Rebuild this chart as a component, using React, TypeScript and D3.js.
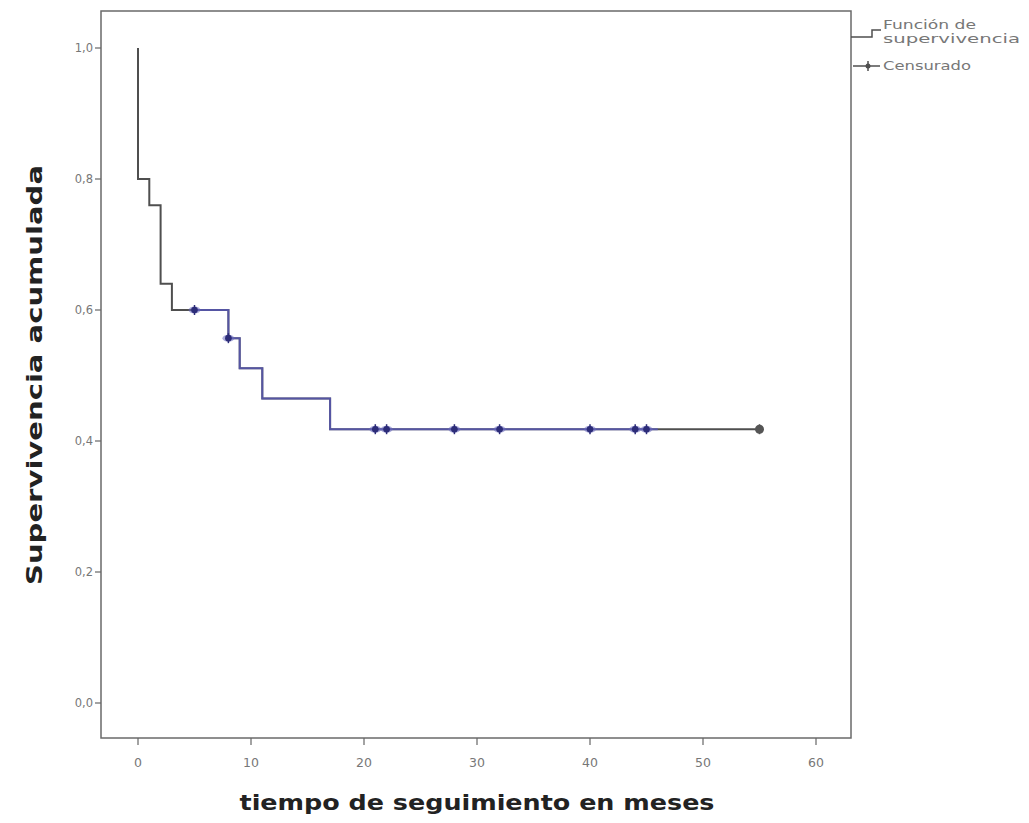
import React from "react";
import * as d3 from "d3";

const stepTimes = [0, 0, 1, 2, 3, 8, 9, 11, 17];
const stepSurvival = [1.0, 0.8, 0.76, 0.64, 0.6, 0.557, 0.511, 0.465, 0.418];
const lastTime = 55;
const censorTimes = [5, 8, 21, 22, 28, 32, 40, 44, 45, 55];
const blueStart = 5;
const blueEnd = 46;
const xTicks = [0, 10, 20, 30, 40, 50, 60];
const yTicks = [0, 0.2, 0.4, 0.6, 0.8, 1.0];

const W = 1029;
const H = 823;
const frame = { left: 101, right: 851, top: 11, bottom: 738 };

const x = d3.scaleLinear().domain([0, 60]).range([138, 816]);
const y = d3.scaleLinear().domain([0, 1]).range([703, 48]);

function survAt(t: number): number {
  let s = 1;
  for (let i = 0; i < stepTimes.length; i++) {
    if (stepTimes[i] <= t) s = stepSurvival[i];
  }
  return s;
}

export default function App() {
  const pts: [number, number][] = stepTimes.map((t, i) => [t, stepSurvival[i]]);
  pts.push([lastTime, stepSurvival[stepSurvival.length - 1]]);
  const line = d3
    .line<[number, number]>()
    .x((d) => x(d[0]))
    .y((d) => y(d[1]))
    .curve(d3.curveStepAfter);

  const bluePts: [number, number][] = [[blueStart, survAt(blueStart)]];
  stepTimes.forEach((t, i) => {
    if (t > blueStart && t < blueEnd) bluePts.push([t, stepSurvival[i]]);
  });
  bluePts.push([blueEnd, survAt(blueEnd)]);

  const fmt = (v: number) => v.toFixed(1).replace(".", ",");
  const grey = "#4f4f4f";
  const tickCol = "#666";
  const font = "DejaVu Sans, sans-serif";

  return (
    <svg
      width={W}
      height={H}
      style={{ position: "absolute", left: 0, top: 0, background: "#fff" }}
    >
      <rect x={0} y={0} width={W} height={H} fill="#fff" />
      {/* frame */}
      <rect
        x={frame.left}
        y={frame.top}
        width={frame.right - frame.left}
        height={frame.bottom - frame.top}
        fill="none"
        stroke="#6a6a6a"
        strokeWidth={1.5}
      />
      {/* y ticks */}
      {yTicks.map((v) => (
        <g key={"y" + v}>
          <line x1={frame.left - 6} x2={frame.left} y1={y(v)} y2={y(v)} stroke={tickCol} strokeWidth={1.2} />
          <text
            x={frame.left - 8}
            y={y(v)}
            dy="0.35em"
            textAnchor="end"
            fontFamily={font}
            fontSize={11.5}
            fill="#777"
          >
            {fmt(v)}
          </text>
        </g>
      ))}
      {/* x ticks */}
      {xTicks.map((v) => (
        <g key={"x" + v}>
          <line x1={x(v)} x2={x(v)} y1={frame.bottom} y2={frame.bottom + 7} stroke={tickCol} strokeWidth={1.2} />
          <text
            x={x(v)}
            y={frame.bottom + 29}
            textAnchor="middle"
            fontFamily={font}
            fontSize={12.5}
            fill="#777"
          >
            {v}
          </text>
        </g>
      ))}
      {/* axis titles */}
      <text
        x={477}
        y={810}
        textAnchor="middle"
        fontFamily={font}
        fontWeight="bold"
        fontSize={21}
        fill="#222"
        textLength={475}
        lengthAdjust="spacingAndGlyphs"
      >
        tiempo de seguimiento en meses
      </text>
      <text
        transform={`translate(42,375) rotate(-90)`}
        textAnchor="middle"
        fontFamily={font}
        fontWeight="bold"
        fontSize={21}
        fill="#222"
        textLength={420}
        lengthAdjust="spacingAndGlyphs"
      >
        Supervivencia acumulada
      </text>
      {/* survival curve */}
      <path d={line(pts) || ""} fill="none" stroke={grey} strokeWidth={2} />
      <path d={line(bluePts) || ""} fill="none" stroke="#5656b8" strokeWidth={2} opacity={0.8} />
      {/* censor markers */}
      {censorTimes.map((t, i) => {
        const cx = x(t);
        const cy = y(survAt(t));
        const last = t === lastTime;
        const col = last ? "#555" : "#2c2c78";
        return (
          <g key={"c" + i}>
            {!last && <ellipse cx={cx} cy={cy} rx={6} ry={3.5} fill="#6a6ac0" opacity={0.55} />}
            <line x1={cx} x2={cx} y1={cy - 5} y2={cy + 5} stroke={col} strokeWidth={1.5} />
            <circle cx={cx} cy={cy} r={last ? 4.5 : 3.3} fill={col} />
          </g>
        );
      })}
      {/* legend */}
      <path
        d={`M${frame.right},37 H872 V30 H881`}
        fill="none"
        stroke={grey}
        strokeWidth={1.5}
      />
      <text x={883} y={29} fontFamily={font} fontSize={12} fill="#777" textLength={93} lengthAdjust="spacingAndGlyphs">
        Función de
      </text>
      <text x={883} y={43} fontFamily={font} fontSize={12} fill="#777" textLength={137} lengthAdjust="spacingAndGlyphs">
        supervivencia
      </text>
      <line x1={frame.right + 2} x2={880} y1={66} y2={66} stroke={grey} strokeWidth={1.5} />
      <line x1={868} x2={868} y1={61} y2={71} stroke={grey} strokeWidth={1.5} />
      <circle cx={868} cy={66} r={2.5} fill={grey} />
      <text x={883} y={70} fontFamily={font} fontSize={12} fill="#777" textLength={88} lengthAdjust="spacingAndGlyphs">
        Censurado
      </text>
    </svg>
  );
}
